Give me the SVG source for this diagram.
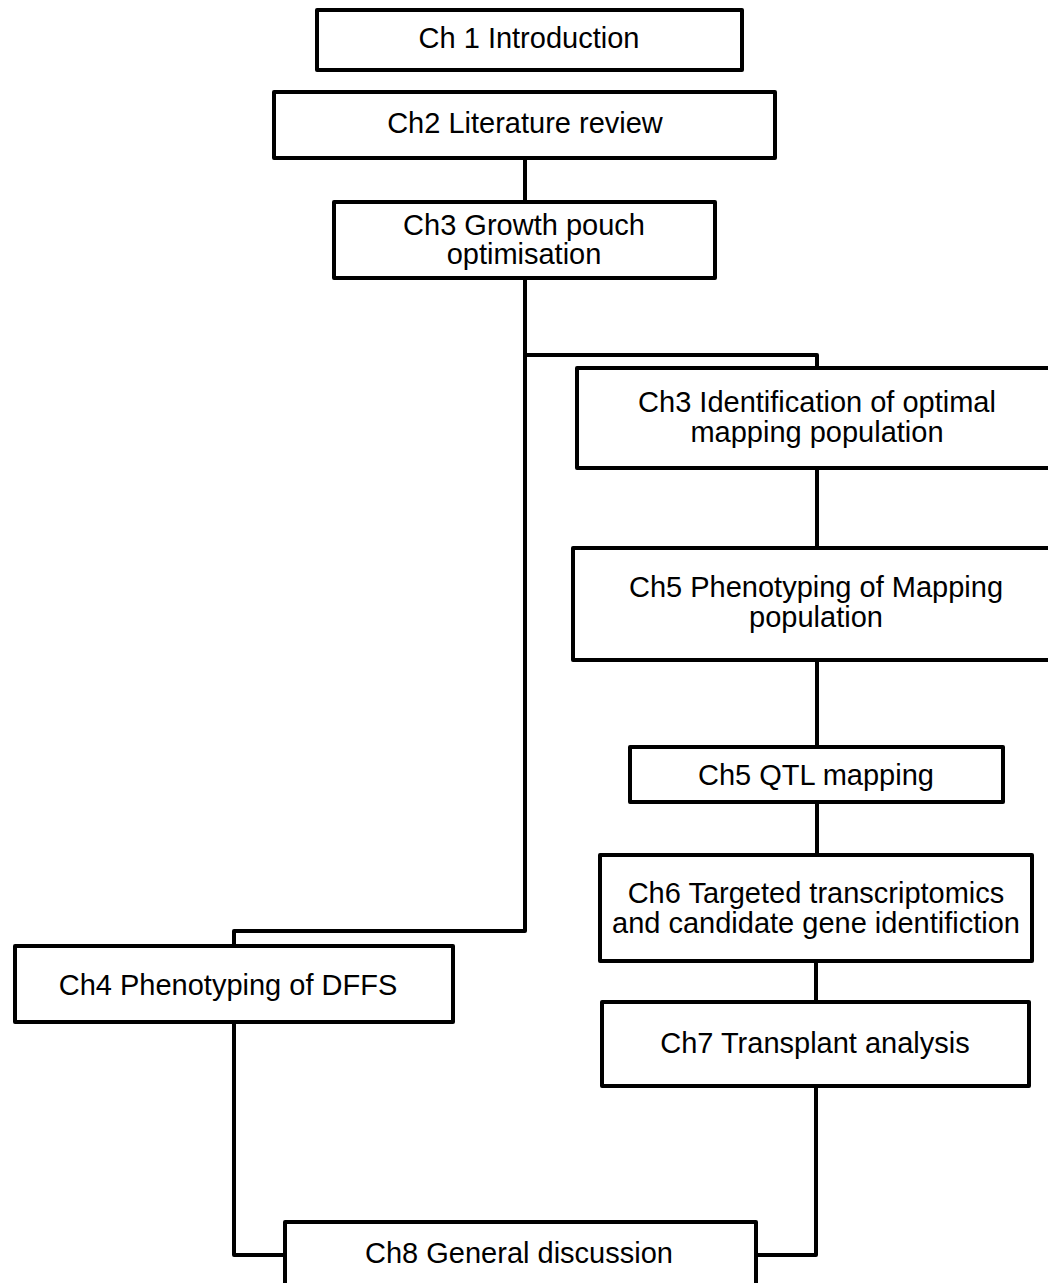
<svg xmlns="http://www.w3.org/2000/svg" width="1048" height="1283" viewBox="0 0 1048 1283">
<style>
.box{fill:#fff;stroke:#000;stroke-width:4;stroke-linejoin:round}
.lbl{font-family:"Liberation Sans",Arial,sans-serif;font-size:29px;fill:#000;text-anchor:middle}
.con{fill:none;stroke:#000;stroke-width:4;stroke-linejoin:round}
</style>
<rect width="1048" height="1283" fill="#fff"/>
<g id="connectors">
<path class="con" d="M525,158 V202"/>
<path class="con" d="M525,278 V931 H234 V946"/>
<path class="con" d="M525,355 H817 V368"/>
<path class="con" d="M817,468 V548"/>
<path class="con" d="M817,660 V747"/>
<path class="con" d="M817,802 V855"/>
<path class="con" d="M816,961 V1002"/>
<path class="con" d="M816,1086 V1255 H756"/>
<path class="con" d="M234,1022 V1255 H285"/>
</g>
<g id="ch1"><rect class="box" x="317" y="10" width="425" height="60"/><text class="lbl" x="529" y="48">Ch 1 Introduction</text></g>
<g id="ch2"><rect class="box" x="274" y="92" width="501" height="66"/><text class="lbl" x="525" y="133">Ch2 Literature review</text></g>
<g id="ch3g"><rect class="box" x="334" y="202" width="381" height="76"/><text class="lbl" x="524" y="235">Ch3 Growth pouch</text><text class="lbl" x="524" y="264">optimisation</text></g>
<g id="ch3i"><rect class="box" x="577" y="368" width="480" height="100"/><text class="lbl" x="817" y="412">Ch3 Identification of optimal</text><text class="lbl" x="817" y="442">mapping population</text></g>
<g id="ch5p"><rect class="box" x="573" y="548" width="488" height="112"/><text class="lbl" x="816" y="597">Ch5 Phenotyping of Mapping</text><text class="lbl" x="816" y="627">population</text></g>
<g id="ch5q"><rect class="box" x="630" y="747" width="373" height="55"/><text class="lbl" x="816" y="785">Ch5 QTL mapping</text></g>
<g id="ch6"><rect class="box" x="600" y="855" width="432" height="106"/><text class="lbl" x="816" y="903">Ch6 Targeted transcriptomics</text><text class="lbl" x="816" y="933">and candidate gene identifiction</text></g>
<g id="ch7"><rect class="box" x="602" y="1002" width="427" height="84"/><text class="lbl" x="815" y="1053">Ch7 Transplant analysis</text></g>
<g id="ch4"><rect class="box" x="15" y="946" width="438" height="76"/><text class="lbl" x="228" y="995">Ch4 Phenotyping of DFFS</text></g>
<g id="ch8"><rect class="box" x="285" y="1222" width="471" height="80"/><text class="lbl" x="519" y="1263">Ch8 General discussion</text></g>
</svg>
